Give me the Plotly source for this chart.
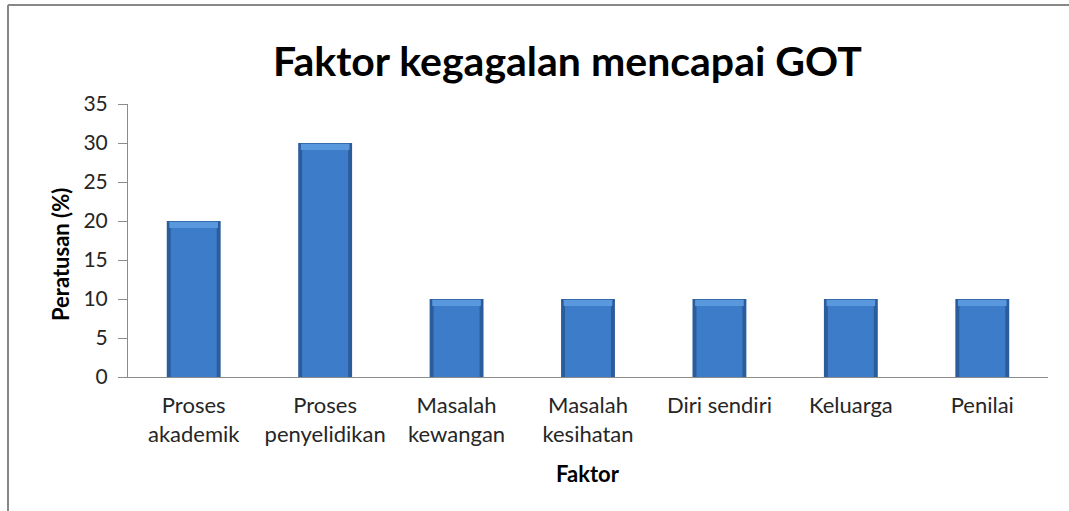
import plotly.graph_objects as go

categories = ["Proses<br>akademik", "Proses<br>penyelidikan", "Masalah<br>kewangan",
              "Masalah<br>kesihatan", "Diri sendiri", "Keluarga", "Penilai"]
values = [20, 30, 10, 10, 10, 10, 10]
y_ticks = [0, 5, 10, 15, 20, 25, 30, 35]

W, H = 1069, 511
ML, MR, MT, MB = 128, 21, 104, 134
PW, PH = W - ML - MR, H - MT - MB

def px_x(x):
    return (x - ML) / PW

def px_y(y):
    return (H - MB - y) / PH

FONT = "Lato"
TXT = "#262626"

fig = go.Figure()
# dark outer bevel body
fig.add_trace(go.Bar(x=categories, y=values, width=0.41,
                     marker=dict(color="#2B5C9C", line=dict(width=0)),
                     hoverinfo="skip", showlegend=False))
# main face
fig.add_trace(go.Bar(x=categories, y=[v - 0.35 for v in values], width=0.35,
                     marker=dict(color="#3D7CC8", line=dict(width=0)),
                     showlegend=False))
# top highlight bevel
fig.add_trace(go.Bar(x=categories, y=[0.8] * len(values), base=[v - 0.9 for v in values],
                     width=0.37, marker=dict(color="#5A98DE", line=dict(width=0)),
                     hoverinfo="skip", showlegend=False))

fig.update_layout(
    width=W, height=H,
    margin=dict(l=ML, r=MR, t=MT, b=MB, autoexpand=False),
    paper_bgcolor="white", plot_bgcolor="white",
    barmode="overlay",
    font=dict(family=FONT, color=TXT),
    xaxis=dict(showline=True, linecolor="#8C8C8C", linewidth=1, ticks="",
               showgrid=False, tickfont=dict(size=22, color=TXT, family=FONT),
               ticklabelstandoff=9, zeroline=False),
    yaxis=dict(range=[0, 35], tickvals=y_ticks, showline=True, linecolor="#8C8C8C",
               linewidth=1, ticks="outside", ticklen=9, tickcolor="#8C8C8C",
               showgrid=False, zeroline=False,
               tickfont=dict(size=21, color=TXT, family=FONT), ticklabelstandoff=6),
    showlegend=False,
    annotations=[
        dict(text="<b>Faktor kegagalan mencapai GOT</b>", xref="paper", yref="paper",
             x=px_x(567), y=px_y(61), xanchor="center", yanchor="middle",
             showarrow=False, font=dict(size=41, color="black", family=FONT)),
        dict(text="<b>Faktor</b>", xref="paper", yref="paper",
             x=px_x(588), y=px_y(473), xanchor="center", yanchor="middle",
             showarrow=False, font=dict(size=22, color="black", family=FONT)),
        dict(text="<b>Peratusan (%)</b>", xref="paper", yref="paper",
             x=px_x(60), y=px_y(255), xanchor="center", yanchor="middle",
             textangle=-90, showarrow=False, font=dict(size=22, color="black", family=FONT)),
    ],
    shapes=[
        dict(type="line", xref="paper", yref="paper",
             x0=px_x(8), y0=px_y(5), x1=px_x(W + 300), y1=px_y(5),
             line=dict(color="#878787", width=2), layer="below"),
        dict(type="line", xref="paper", yref="paper",
             x0=px_x(8), y0=px_y(5), x1=px_x(8), y1=px_y(H + 300),
             line=dict(color="#878787", width=2), layer="below"),
    ],
)

fig.write_html("out.html", config={"displayModeBar": False},
               post_script="document.body.style.margin='0';")
